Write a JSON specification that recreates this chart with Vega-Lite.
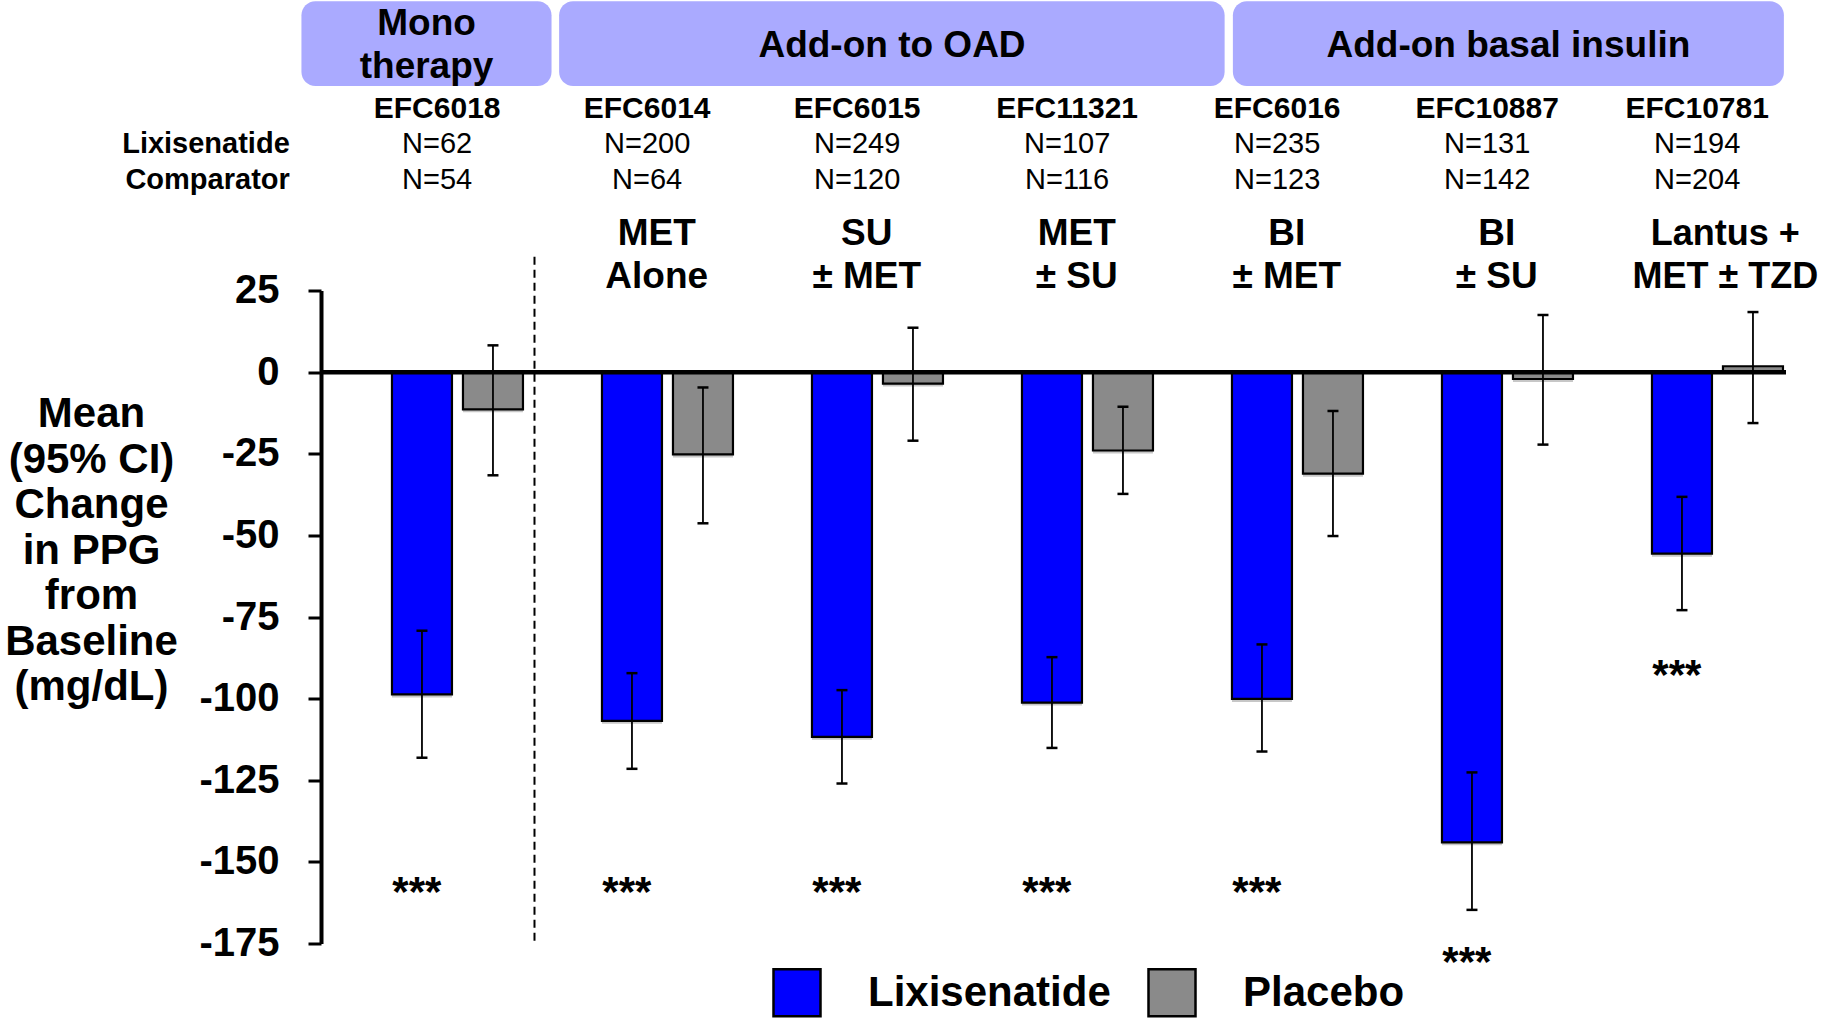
{
  "$schema": "https://vega.github.io/schema/vega-lite/v6.json",
  "width": 1465,
  "height": 653,
  "autosize": {"type": "none"},
  "padding": {"left": 321, "top": 290.5, "right": 36, "bottom": 74.5},
  "background": "white",
  "config": {
    "view": {"stroke": null},
    "font": "Liberation Sans",
    "text": {"font": "Liberation Sans", "color": "black"}
  },
  "datasets": {
    "arms": [
      {"study": "EFC6018", "arm": "Lixisenatide", "mean": -98.7, "lower": -118.1, "upper": -79.2},
      {"study": "EFC6018", "arm": "Placebo", "mean": -11.4, "lower": -31.6, "upper": 8.2},
      {"study": "EFC6014", "arm": "Lixisenatide", "mean": -106.8, "lower": -121.5, "upper": -92.2},
      {"study": "EFC6014", "arm": "Placebo", "mean": -25.2, "lower": -46.3, "upper": -4.7},
      {"study": "EFC6015", "arm": "Lixisenatide", "mean": -111.7, "lower": -126.0, "upper": -97.4},
      {"study": "EFC6015", "arm": "Placebo", "mean": -3.5, "lower": -21.0, "upper": 13.6},
      {"study": "EFC11321", "arm": "Lixisenatide", "mean": -101.2, "lower": -115.1, "upper": -87.3},
      {"study": "EFC11321", "arm": "Placebo", "mean": -24.0, "lower": -37.3, "upper": -10.6},
      {"study": "EFC6016", "arm": "Lixisenatide", "mean": -100.1, "lower": -116.2, "upper": -83.4},
      {"study": "EFC6016", "arm": "Placebo", "mean": -31.1, "lower": -50.2, "upper": -11.9},
      {"study": "EFC10887", "arm": "Lixisenatide", "mean": -144.0, "lower": -164.7, "upper": -122.6},
      {"study": "EFC10887", "arm": "Placebo", "mean": -2.1, "lower": -22.2, "upper": 17.5},
      {"study": "EFC10781", "arm": "Lixisenatide", "mean": -55.6, "lower": -72.9, "upper": -38.2},
      {"study": "EFC10781", "arm": "Placebo", "mean": 1.8, "lower": -15.6, "upper": 18.4}
    ],
    "studies": [
      {"study": "EFC6018", "nLixi": "N=62", "nComp": "N=54", "regimen": "", "sig": "***"},
      {"study": "EFC6014", "nLixi": "N=200", "nComp": "N=64", "regimen": "MET\nAlone", "sig": "***"},
      {"study": "EFC6015", "nLixi": "N=249", "nComp": "N=120", "regimen": "SU\n± MET", "sig": "***"},
      {"study": "EFC11321", "nLixi": "N=107", "nComp": "N=116", "regimen": "MET\n± SU", "sig": "***"},
      {"study": "EFC6016", "nLixi": "N=235", "nComp": "N=123", "regimen": "BI\n± MET", "sig": "***"},
      {"study": "EFC10887", "nLixi": "N=131", "nComp": "N=142", "regimen": "BI\n± SU", "sig": "***"},
      {"study": "EFC10781", "nLixi": "N=194", "nComp": "N=204", "regimen": "Lantus +\nMET ± TZD", "sig": "***"}
    ],
    "segments": [
      {"label": "Mono\ntherapy"},
      {"label": "Add-on to OAD"},
      {"label": "Add-on basal insulin"}
    ],
    "rowlabels": [
      {"label": "Lixisenatide", "row": "lixi"},
      {"label": "Comparator", "row": "comp"}
    ]
  },
  "layer": [
    {
      "data": {"name": "segments"},
      "transform": [{"filter": "indexof(datum.label, 'Mono') === 0"}],
      "mark": {"type": "rect", "fill": "#aaaaff", "cornerRadius": 14},
      "encoding": {
        "x": {"datum": "EFC6018", "bandPosition": -0.691, "scale": {"domain": ["EFC6018", "EFC6014", "EFC6015", "EFC11321", "EFC6016", "EFC10887", "EFC10781"], "paddingInner": 0.37619, "paddingOuter": 0.17619, "align": 0.959}, "axis": null},
        "x2": {"datum": "EFC6018", "bandPosition": 1.218},
        "y": {"datum": 113.6},
        "y2": {"datum": 87.6}
      }
    },
    {
      "data": {"name": "segments"},
      "transform": [{"filter": "datum.label === 'Add-on to OAD'"}],
      "mark": {"type": "rect", "fill": "#aaaaff", "cornerRadius": 14},
      "encoding": {
        "x": {"datum": "EFC6014", "bandPosition": -0.327},
        "x2": {"datum": "EFC11321", "bandPosition": 1.547},
        "y": {"datum": 113.6},
        "y2": {"datum": 87.6}
      }
    },
    {
      "data": {"name": "segments"},
      "transform": [{"filter": "datum.label === 'Add-on basal insulin'"}],
      "mark": {"type": "rect", "fill": "#aaaaff", "cornerRadius": 14},
      "encoding": {
        "x": {"datum": "EFC6016", "bandPosition": 0.007},
        "x2": {"datum": "EFC10781", "bandPosition": 1.007},
        "y": {"datum": 113.6},
        "y2": {"datum": 87.6}
      }
    },
    {
      "data": {"name": "segments"},
      "transform": [{"filter": "indexof(datum.label, 'Mono') === 0"}],
      "mark": {"type": "text", "fontSize": 37, "fontWeight": "bold", "baseline": "alphabetic", "lineBreak": "\n", "lineHeight": 43.3},
      "encoding": {
        "x": {"datum": "EFC6018", "bandPosition": 0.264},
        "y": {"datum": 103.2},
        "text": {"field": "label"}
      }
    },
    {
      "data": {"name": "segments"},
      "transform": [{"filter": "datum.label === 'Add-on to OAD'"}],
      "mark": {"type": "text", "fontSize": 37, "fontWeight": "bold", "baseline": "alphabetic"},
      "encoding": {
        "x": {"datum": "EFC6015", "bandPosition": 0.611},
        "y": {"datum": 96.6},
        "text": {"field": "label"}
      }
    },
    {
      "data": {"name": "segments"},
      "transform": [{"filter": "datum.label === 'Add-on basal insulin'"}],
      "mark": {"type": "text", "fontSize": 37, "fontWeight": "bold", "baseline": "alphabetic"},
      "encoding": {
        "x": {"datum": "EFC10887", "bandPosition": 0.507},
        "y": {"datum": 96.6},
        "text": {"field": "label"}
      }
    },
    {
      "data": {"name": "studies"},
      "mark": {"type": "text", "fontSize": 30, "fontWeight": "bold", "baseline": "alphabetic"},
      "encoding": {
        "x": {"field": "study", "type": "nominal", "bandPosition": 0.345},
        "y": {"datum": 77.7},
        "text": {"field": "study"}
      }
    },
    {
      "data": {"name": "studies"},
      "mark": {"type": "text", "fontSize": 29, "baseline": "alphabetic"},
      "encoding": {
        "x": {"field": "study", "type": "nominal", "bandPosition": 0.345},
        "y": {"datum": 67.0},
        "text": {"field": "nLixi"}
      }
    },
    {
      "data": {"name": "studies"},
      "mark": {"type": "text", "fontSize": 29, "baseline": "alphabetic"},
      "encoding": {
        "x": {"field": "study", "type": "nominal", "bandPosition": 0.345},
        "y": {"datum": 56.1},
        "text": {"field": "nComp"}
      }
    },
    {
      "data": {"name": "rowlabels"},
      "transform": [{"filter": "datum.row === 'lixi'"}],
      "mark": {"type": "text", "fontSize": 29, "fontWeight": "bold", "baseline": "alphabetic", "align": "right"},
      "encoding": {
        "x": {"datum": "EFC6018", "bandPosition": -0.78},
        "y": {"datum": 67.0},
        "text": {"field": "label"}
      }
    },
    {
      "data": {"name": "rowlabels"},
      "transform": [{"filter": "datum.row === 'comp'"}],
      "mark": {"type": "text", "fontSize": 29, "fontWeight": "bold", "baseline": "alphabetic", "align": "right"},
      "encoding": {
        "x": {"datum": "EFC6018", "bandPosition": -0.78},
        "y": {"datum": 56.1},
        "text": {"field": "label"}
      }
    },
    {
      "data": {"name": "studies"},
      "transform": [{"filter": "datum.regimen !== '' && datum.study !== 'EFC10781'"}],
      "mark": {"type": "text", "fontSize": 37, "fontWeight": "bold", "baseline": "alphabetic", "lineBreak": "\n", "lineHeight": 43.3},
      "encoding": {
        "x": {"field": "study", "type": "nominal", "bandPosition": 0.418},
        "y": {"datum": 38.9},
        "text": {"field": "regimen"}
      }
    },
    {
      "data": {"name": "studies"},
      "transform": [{"filter": "datum.study === 'EFC10781'"}],
      "mark": {"type": "text", "fontSize": 36, "fontWeight": "bold", "baseline": "alphabetic", "lineBreak": "\n", "lineHeight": 43.3},
      "encoding": {
        "x": {"field": "study", "type": "nominal", "bandPosition": 0.56},
        "y": {"datum": 38.9},
        "text": {"field": "regimen"}
      }
    },
    {
      "data": {"values": [{}]},
      "mark": {"type": "rule", "stroke": "black", "strokeWidth": 2, "strokeDash": [8, 5]},
      "encoding": {
        "x": {"datum": "EFC6018", "bandPosition": 1.088},
        "y": {"datum": 35.3},
        "y2": {"datum": -175}
      }
    },
    {
      "data": {"name": "arms"},
      "mark": {"type": "bar", "fill": "black", "opacity": 0.22, "xOffset": 3, "yOffset": 3},
      "encoding": {
        "x": {"field": "study", "type": "nominal"},
        "xOffset": {"field": "arm", "type": "nominal"},
        "y": {"field": "mean", "type": "quantitative"},
        "y2": {"datum": 0}
      }
    },
    {
      "data": {"name": "arms"},
      "mark": {"type": "bar", "stroke": "black", "strokeWidth": 2.2, "opacity": 1},
      "encoding": {
        "x": {"field": "study", "type": "nominal"},
        "xOffset": {"field": "arm", "type": "nominal", "scale": {"domain": ["Lixisenatide", "Placebo"], "paddingInner": 0.155, "paddingOuter": 0}},
        "y": {
          "field": "mean",
          "type": "quantitative",
          "scale": {"domain": [-175, 25], "nice": false, "zero": false},
          "axis": {
            "title": ["Mean", "(95% CI)", "Change", "in PPG", "from", "Baseline", "(mg/dL)"],
            "titleAngle": 0,
            "titleAlign": "center",
            "titleBaseline": "alphabetic",
            "titleX": -230,
            "titleY": 136,
            "titleFont": "Liberation Sans",
            "titleFontSize": 42,
            "titleFontWeight": "bold",
            "titleLineHeight": 45.5,
            "titleColor": "black",
            "values": [25, 0, -25, -50, -75, -100, -125, -150, -175],
            "labelExpr": "datum.value + ''",
            "grid": false,
            "domainColor": "black",
            "domainWidth": 4,
            "tickColor": "black",
            "tickWidth": 3,
            "tickSize": 13,
            "labelFont": "Liberation Sans",
            "labelFontSize": 40,
            "labelFontWeight": "bold",
            "labelColor": "black",
            "labelPadding": 29,
            "labelFlush": false,
            "labelOverlap": false
          }
        },
        "y2": {"datum": 0},
        "color": {
          "field": "arm",
          "type": "nominal",
          "scale": {"domain": ["Lixisenatide", "Placebo"], "range": ["#0000ff", "#8a8a8a"]},
          "legend": {
            "orient": "none",
            "legendX": 451,
            "legendY": 677,
            "direction": "horizontal",
            "title": null,
            "padding": 0,
            "symbolType": "square",
            "symbolSize": 2209,
            "symbolStrokeColor": "black",
            "symbolStrokeWidth": 2.5,
            "symbolOpacity": 1,
            "labelFont": "Liberation Sans",
            "labelFontSize": 42,
            "labelFontWeight": "bold",
            "labelColor": "black",
            "labelOffset": 46,
            "labelLimit": 500,
            "columnPadding": 32
          }
        }
      }
    },
    {
      "data": {"values": [{}]},
      "mark": {"type": "rule", "stroke": "black", "strokeWidth": 4.5},
      "encoding": {"y": {"datum": 0}}
    },
    {
      "data": {"name": "arms"},
      "mark": {"type": "rule", "stroke": "black", "strokeWidth": 1.8},
      "encoding": {
        "x": {"field": "study", "type": "nominal"},
        "xOffset": {"field": "arm", "type": "nominal"},
        "y": {"field": "lower", "type": "quantitative"},
        "y2": {"field": "upper"}
      }
    },
    {
      "data": {"name": "arms"},
      "mark": {"type": "tick", "color": "black", "thickness": 2.5, "size": 11, "opacity": 1},
      "encoding": {
        "x": {"field": "study", "type": "nominal"},
        "xOffset": {"field": "arm", "type": "nominal"},
        "y": {"field": "lower", "type": "quantitative"}
      }
    },
    {
      "data": {"name": "arms"},
      "mark": {"type": "tick", "color": "black", "thickness": 2.5, "size": 11, "opacity": 1},
      "encoding": {
        "x": {"field": "study", "type": "nominal"},
        "xOffset": {"field": "arm", "type": "nominal"},
        "y": {"field": "upper", "type": "quantitative"}
      }
    },
    {
      "data": {"name": "studies"},
      "transform": [{"filter": "datum.study !== 'EFC10887' && datum.study !== 'EFC10781'"}],
      "mark": {"type": "text", "fontSize": 42, "fontWeight": "bold", "baseline": "alphabetic"},
      "encoding": {
        "x": {"field": "study", "type": "nominal", "bandPosition": 0.19},
        "y": {"datum": -163.5},
        "text": {"field": "sig"}
      }
    },
    {
      "data": {"name": "studies"},
      "transform": [{"filter": "datum.study === 'EFC10887'"}],
      "mark": {"type": "text", "fontSize": 42, "fontWeight": "bold", "baseline": "alphabetic"},
      "encoding": {
        "x": {"field": "study", "type": "nominal", "bandPosition": 0.19},
        "y": {"datum": -185.0},
        "text": {"field": "sig"}
      }
    },
    {
      "data": {"name": "studies"},
      "transform": [{"filter": "datum.study === 'EFC10781'"}],
      "mark": {"type": "text", "fontSize": 42, "fontWeight": "bold", "baseline": "alphabetic"},
      "encoding": {
        "x": {"field": "study", "type": "nominal", "bandPosition": 0.19},
        "y": {"datum": -97.2},
        "text": {"field": "sig"}
      }
    }
  ]
}
